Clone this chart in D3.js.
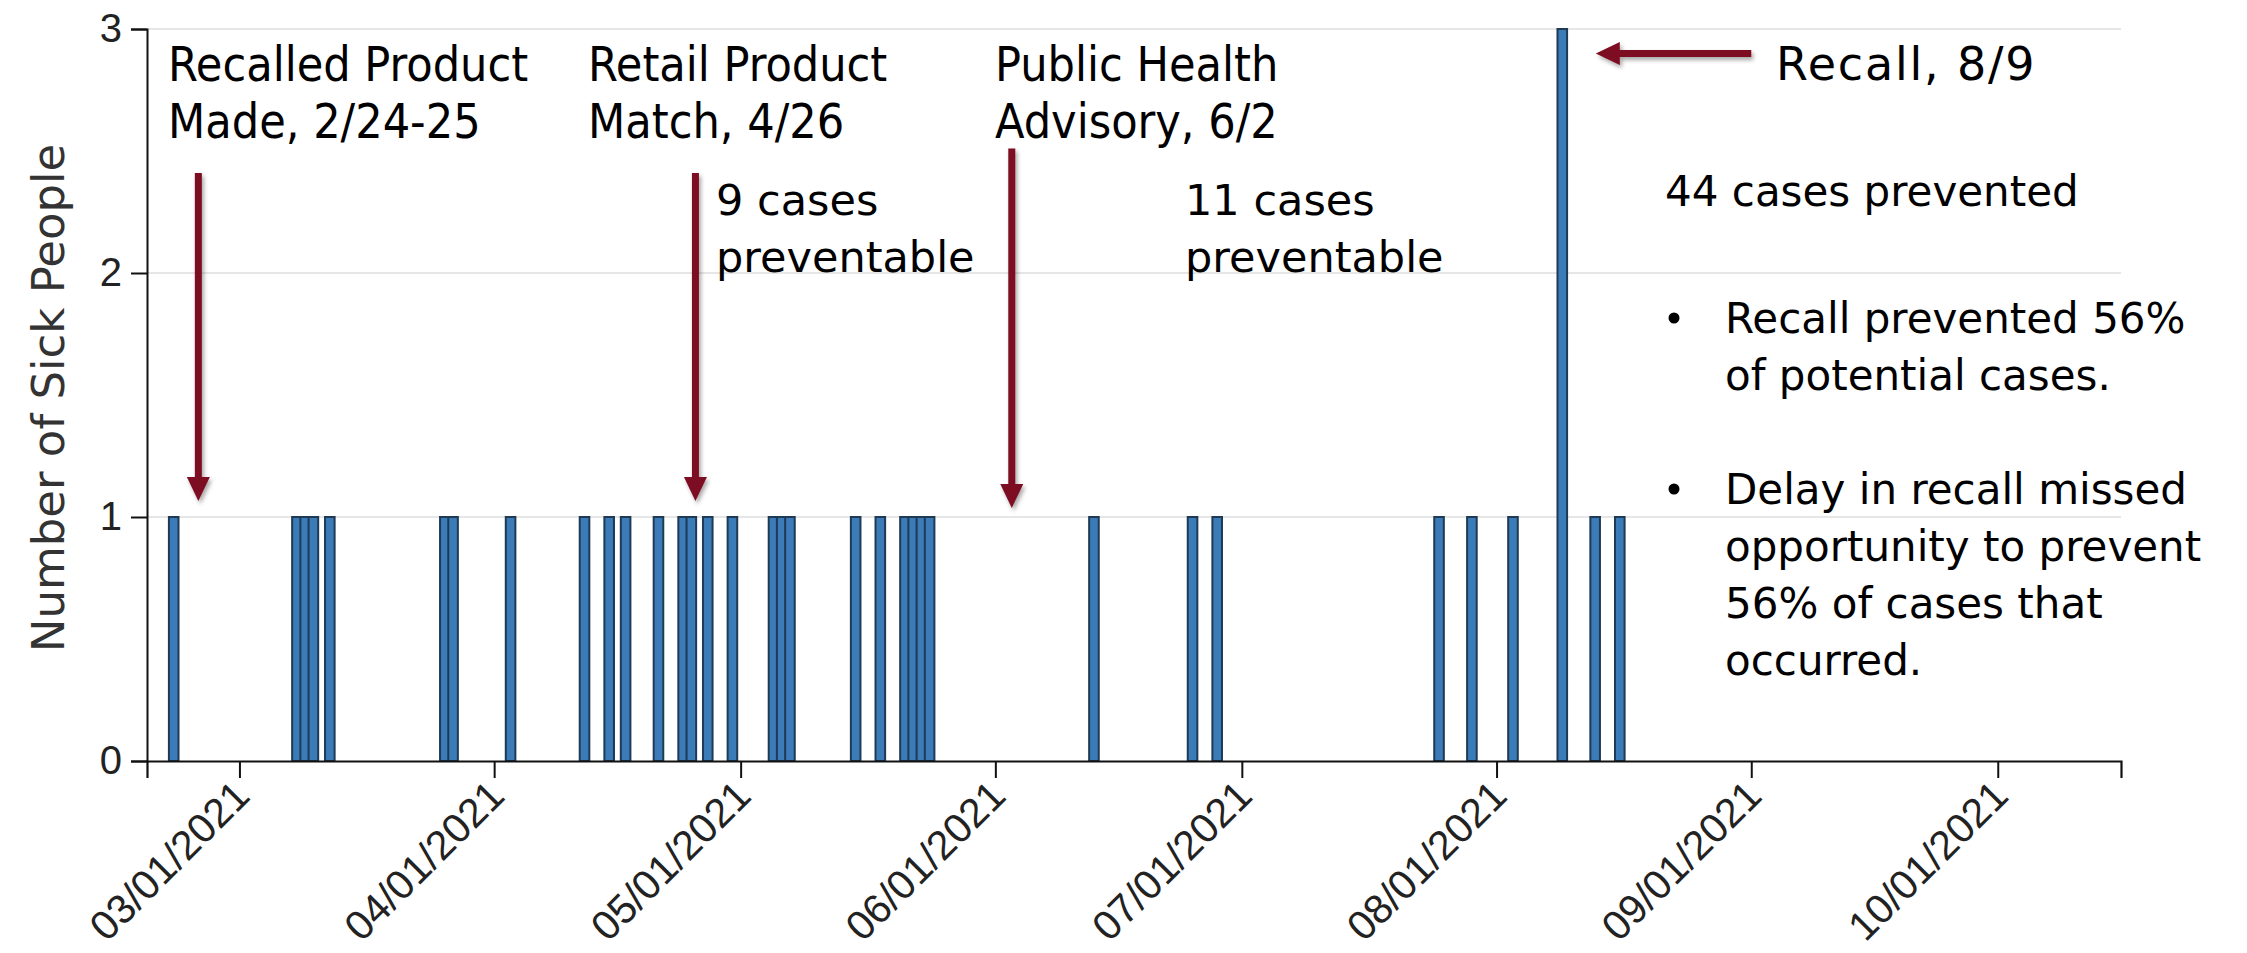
<!DOCTYPE html>
<html>
<head>
<meta charset="utf-8">
<script src="https://cdn.jsdelivr.net/npm/d3@7"></script>
<style>
  html, body { margin: 0; padding: 0; background: #ffffff; }
  svg { display: block; }
</style>
</head>
<body>
<svg id="chart" width="2247" height="953"></svg>
<script>
// Onset dates of illness and the number of sick people on each date
const onsetDates = [
  "2021-02-21", "2021-03-08", "2021-03-09", "2021-03-10", "2021-03-12",
  "2021-03-26", "2021-03-27", "2021-04-03", "2021-04-12", "2021-04-15",
  "2021-04-17", "2021-04-21", "2021-04-24", "2021-04-25", "2021-04-27",
  "2021-04-30", "2021-05-05", "2021-05-06", "2021-05-07", "2021-05-15",
  "2021-05-18", "2021-05-21", "2021-05-22", "2021-05-23", "2021-05-24",
  "2021-06-13", "2021-06-25", "2021-06-28", "2021-07-25", "2021-07-29",
  "2021-08-03", "2021-08-09", "2021-08-13", "2021-08-16"
];
const sickCounts = [
  1, 1, 1, 1, 1,
  1, 1, 1, 1, 1,
  1, 1, 1, 1, 1,
  1, 1, 1, 1, 1,
  1, 1, 1, 1, 1,
  1, 1, 1, 1, 1,
  1, 3, 1, 1
];

// Axis ticks
const yTickValues = [0, 1, 2, 3];
const xTickDates = [
  "2021-03-01", "2021-04-01", "2021-05-01", "2021-06-01",
  "2021-07-01", "2021-08-01", "2021-09-01", "2021-10-01"
];
const xDomain = ["2021-02-17T18:00", "2021-10-16T00:00"];

// Event arrows: date, start value and tip value (vertical arrows)
const eventDates = ["2021-02-24", "2021-04-25T12:00", "2021-06-03"];
const eventArrowTop = [2.41, 2.41, 2.51];
const eventArrowTip = [1.066, 1.066, 1.037];

// Recall arrow (horizontal): tail date, tip date, value
const recallArrowDates = ["2021-09-01", "2021-08-13T02:00"];
const recallArrowValue = 2.9;

// Annotation text
const eventLabels = [
  ["Recalled Product", "Made, 2/24-25"],
  ["Retail Product", "Match, 4/26"],
  ["Public Health", "Advisory, 6/2"]
];
const preventableLabels = [
  ["9 cases", "preventable"],
  ["11 cases", "preventable"]
];
const recallLabel = "Recall, 8/9";
const preventedLabel = "44 cases prevented";
const bulletPoints = [
  ["Recall prevented 56%", "of potential cases."],
  ["Delay in recall missed", "opportunity to prevent", "56% of cases that", "occurred."]
];
const yAxisTitle = "Number of Sick People";

const parse = d => new Date(d);
const fmt = d3.timeFormat("%m/%d/%Y");

const svg = d3.select("#chart");
const plot = { left: 147, right: 2121, top: 29, bottom: 761 };

const x = d3.scaleTime()
  .domain(xDomain.map(parse))
  .range([plot.left, plot.right]);
const y = d3.scaleLinear()
  .domain([0, 3])
  .range([plot.bottom, plot.top]);

const cases = onsetDates.map((d, i) => ({ date: parse(d), count: sickCounts[i] }));

// Drop shadow for the arrows
const defs = svg.append("defs");
const shadow = defs.append("filter").attr("id", "arrowShadow")
  .attr("x", "-50%").attr("y", "-50%").attr("width", "200%").attr("height", "200%");
shadow.append("feDropShadow")
  .attr("dx", 2).attr("dy", 3).attr("stdDeviation", 2)
  .attr("flood-color", "#000").attr("flood-opacity", 0.35);

// Horizontal gridlines
svg.append("g")
  .selectAll("line")
  .data(yTickValues.filter(v => v > 0))
  .join("line")
  .attr("x1", plot.left).attr("x2", plot.right)
  .attr("y1", d => y(d)).attr("y2", d => y(d))
  .attr("stroke", "#e6e6e6").attr("stroke-width", 2);

// Bars
const barWidth = 9.6;
svg.append("g")
  .selectAll("rect")
  .data(cases)
  .join("rect")
  .attr("x", d => x(d.date) - barWidth / 2)
  .attr("y", d => y(d.count))
  .attr("width", barWidth)
  .attr("height", d => y(0) - y(d.count))
  .attr("fill", "#3a7bb8")
  .attr("stroke", "#1f3a55")
  .attr("stroke-width", 2);

// Y axis
const yAxis = svg.append("g")
  .attr("transform", `translate(${plot.left},0)`)
  .call(d3.axisLeft(y).tickValues(yTickValues).tickFormat(d3.format("d")).tickSize(16).tickPadding(9));
yAxis.select(".domain").attr("stroke", "#111").attr("stroke-width", 2);
yAxis.selectAll(".tick line").attr("stroke", "#111").attr("stroke-width", 2);
yAxis.selectAll(".tick text")
  .attr("fill", "#222")
  .style("font-family", "'Liberation Sans', Arial, sans-serif")
  .style("font-size", "40px");

// X axis
const xAxis = svg.append("g")
  .attr("transform", `translate(0,${plot.bottom})`)
  .call(d3.axisBottom(x).tickValues(xTickDates.map(parse)).tickFormat(fmt).tickSize(17));
xAxis.select(".domain").attr("stroke", "#111").attr("stroke-width", 2.2);
xAxis.selectAll(".tick line").attr("stroke", "#111").attr("stroke-width", 2);
xAxis.selectAll(".tick text")
  .attr("fill", "#222")
  .style("font-family", "'Liberation Sans', Arial, sans-serif")
  .style("font-size", "41px")
  .attr("text-anchor", "end")
  .attr("y", 0).attr("dy", 0)
  .attr("transform", "translate(12,37) rotate(-45)");

// Y axis title
svg.append("text")
  .attr("transform", `translate(64,${(plot.top + plot.bottom) / 2 + 3}) rotate(-90)`)
  .attr("text-anchor", "middle")
  .attr("fill", "#333")
  .style("font-family", "'DejaVu Sans', Verdana, sans-serif")
  .style("font-size", "45px")
  .text(yAxisTitle);

// Arrow helper: shaft plus triangular head pointing at (x2, y2)
const arrowColor = "#7c0a22";
function drawArrow(g, x1, y1, x2, y2) {
  const headLen = 24, headHalf = 11.5, shaft = 7;
  const dx = x2 - x1, dy = y2 - y1, len = Math.hypot(dx, dy);
  const ux = dx / len, uy = dy / len, px = -uy, py = ux;
  const bx = x2 - ux * headLen, by = y2 - uy * headLen;
  const a = g.append("g").attr("filter", "url(#arrowShadow)");
  a.append("line")
    .attr("x1", x1).attr("y1", y1).attr("x2", bx + ux * 1).attr("y2", by + uy * 1)
    .attr("stroke", arrowColor).attr("stroke-width", shaft);
  a.append("path")
    .attr("d", `M${x2},${y2}L${bx + px * headHalf},${by + py * headHalf}L${bx - px * headHalf},${by - py * headHalf}Z`)
    .attr("fill", arrowColor);
}

const arrows = svg.append("g");
eventDates.forEach((d, i) => {
  const xx = x(parse(d));
  drawArrow(arrows, xx, y(eventArrowTop[i]), xx, y(eventArrowTip[i]));
});
drawArrow(arrows,
  x(parse(recallArrowDates[0])), y(recallArrowValue),
  x(parse(recallArrowDates[1])), y(recallArrowValue));

// Annotation text
const notes = svg.append("g").attr("fill", "#000");
const condensed = "'DejaVu Sans Condensed', 'DejaVu Sans', sans-serif";
const regular = "'DejaVu Sans', Verdana, sans-serif";

function textBlock(lines, x0, y0, lineH, family, size, stretch, spacing) {
  const t = notes.append("text")
    .attr("x", x0).attr("y", y0)
    .style("font-family", family)
    .style("font-size", size + "px");
  if (stretch) t.style("font-stretch", stretch);
  if (spacing) t.style("letter-spacing", spacing + "px");
  lines.forEach((line, i) => {
    t.append("tspan").attr("x", x0).attr("y", y0 + i * lineH).text(line);
  });
  return t;
}

const eventLabelX = [168, 588, 995];
eventLabels.forEach((lines, i) => textBlock(lines, eventLabelX[i], 81, 57, condensed, 48, "condensed"));

const preventableX = [716, 1185];
preventableLabels.forEach((lines, i) => textBlock(lines, preventableX[i], 215, 57, regular, 43));

textBlock([recallLabel], 1776, 80, 57, regular, 46, null, 1.8);
textBlock([preventedLabel], 1665, 206, 57, regular, 42);

// Bulleted notes
const bulletTop = [333, 504];
bulletPoints.forEach((lines, i) => {
  notes.append("circle")
    .attr("cx", 1674).attr("cy", bulletTop[i] - 15).attr("r", 5.5).attr("fill", "#000");
  textBlock(lines, 1725, bulletTop[i], 57, regular, 42);
});
</script>
</body>
</html>
